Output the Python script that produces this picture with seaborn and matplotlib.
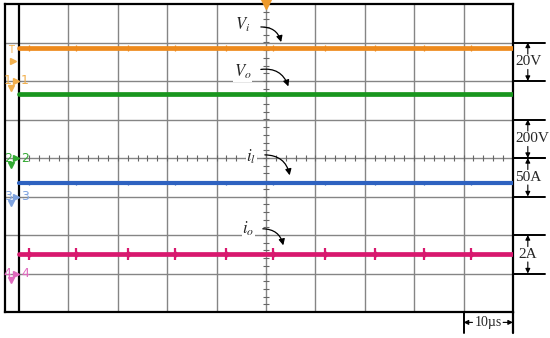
import numpy as np
import pandas as pd
import matplotlib
matplotlib.use('Agg')
import matplotlib.pyplot as plt
import seaborn as sns

# trace levels in screen divisions (8 vertical x 10 horizontal)
channels = ['Vi', 'Vo', 'il', 'io']
trace_level = [6.86, 5.66, 3.35, 1.51]
trace_colors = ['#EE8A1C', '#19961E', '#2E62C0', '#D8186E']
trace_width = [3.4, 3.4, 3.0, 3.4]

# ground reference markers
ref_names = ['1', '2', '3', '4']
ref_level = [6.0, 4.0, 3.0, 1.0]
ref_colors = ['#F2B04E', '#33AA33', '#7FA3E0', '#E069BE']

# switching spikes (div)
spike_times = [0.2, 1.15, 2.2, 3.15, 4.2, 5.15, 6.2, 7.2, 8.2, 9.15]
spike_height = [0.08, 0.03, 0.06, 0.15]
spike_width = [0.9, 0.8, 0.9, 1.6]

# labels
trace_labels = [r'$V_i$', r'$V_o$', r'$i_l$', r'$i_o$']
label_pos = [(4.53, 7.45), (4.53, 6.23), (4.70, 4.03), (4.64, 2.16)]
arrow_start = [(4.84, 7.40), (4.84, 6.29), (4.92, 4.08), (4.88, 2.16)]
arrow_end = [(5.32, 6.94), (5.47, 5.79), (5.49, 3.48), (5.36, 1.66)]

scale_labels = ['20V', '200V', '50A', '2A']
scale_span = [(6, 7), (4, 5), (3, 4), (1, 2)]
time_label = '10\u00b5s'

sns.set_style('white')
plt.rcParams['font.family'] = ['Liberation Serif', 'DejaVu Serif']
plt.rcParams['mathtext.fontset'] = 'stix'

fig = plt.figure(figsize=(5.5, 3.38), dpi=100)
W, H = 550, 338
ax = fig.add_axes([5 / W, (H - 312) / H, 508 / W, 308 / H])
x0 = -14 / 49.4
ax.set_xlim(x0, 10)
ax.set_ylim(0, 8)
ax.set_xticks([])
ax.set_yticks([])
for s in ax.spines.values():
    s.set_color('black')
    s.set_linewidth(1.6)

# grid
for gx in range(1, 10):
    ax.axvline(gx, color='#858585', lw=1.0, zorder=1)
for gy in range(1, 8):
    ax.axhline(gy, color='#858585', lw=1.0, zorder=1)
ax.axvline(0, color='black', lw=1.6, zorder=2)

# center axes minor ticks
ty = np.arange(0.2, 8, 0.2)
ax.hlines(ty, 5 - 0.06, 5 + 0.06, color='#666666', lw=0.8, zorder=1)
tx = np.arange(0.2, 10, 0.2)
ax.vlines(tx, 4 - 0.07, 4 + 0.07, color='#666666', lw=0.8, zorder=1)

# traces
rows = []
for name, lev in zip(channels, trace_level):
    rows.append({'t': 0, 'v': lev, 'ch': name})
    rows.append({'t': 10, 'v': lev, 'ch': name})
df = pd.DataFrame(rows)
for i, name in enumerate(channels):
    sns.lineplot(data=df[df.ch == name], x='t', y='v', color=trace_colors[i],
                 lw=trace_width[i], ax=ax, legend=False, zorder=4)
    h = spike_height[i]
    lev = trace_level[i]
    ax.vlines(spike_times, lev - h, lev + h, color=trace_colors[i],
              lw=spike_width[i], zorder=4)
    if i == 3:
        ax.scatter(spike_times, [lev] * len(spike_times), marker='D', s=14,
                   color=trace_colors[i], zorder=5, lw=0)
ax.set_xlabel('')
ax.set_ylabel('')
ax.set_xlim(x0, 10)
ax.set_ylim(0, 8)

# reference markers at left
for name, lev, c in zip(ref_names, ref_level, ref_colors):
    ax.text(-0.23, lev, name, color=c, fontsize=9, ha='center', va='center',
            family='DejaVu Sans', zorder=6)
    ax.plot(-0.17, lev - 0.17, marker='v', ms=4, color=c, zorder=6, clip_on=False)
    ax.plot(-0.06, lev, marker='>', ms=4, color=c, zorder=6, clip_on=False)
    ax.text(0.12, lev, name, color=c, fontsize=9, ha='center', va='center',
            family='DejaVu Sans', zorder=6)

# trigger markers
ax.text(-0.17, 6.8, 'T', color='#F2B04E', fontsize=7, ha='center', va='center',
        family='DejaVu Sans')
ax.plot(-0.12, 6.52, marker='>', ms=4, color='#F2B04E')
ax.plot(5, 8, marker='v', ms=7, color='#EE9A2C', clip_on=False, zorder=6)

# trace annotations
for lab, p, a, b in zip(trace_labels, label_pos, arrow_start, arrow_end):
    ax.text(p[0], p[1], lab, fontsize=12, ha='center', va='center', zorder=7,
            bbox=dict(fc='white', ec='none', pad=0.5))
    ax.annotate('', xy=b, xytext=a, zorder=7,
                arrowprops=dict(arrowstyle='-|>', color='black', lw=0.9,
                                mutation_scale=9,
                                connectionstyle='arc3,rad=-0.45'))

# scale brackets on the right
xr = 10.65
xa = 10.3
for lab, (lo, hi) in zip(scale_labels, scale_span):
    ax.plot([10, xr], [lo, lo], color='black', lw=1.4, clip_on=False)
    ax.plot([10, xr], [hi, hi], color='black', lw=1.4, clip_on=False)
    mid = (lo + hi) / 2
    ax.text(10.04 if lab != '2A' else xa, mid, lab, fontsize=11,
            ha='left' if lab != '2A' else 'center', va='center')
    ax.annotate('', xy=(xa, hi), xytext=(xa, mid + 0.2), annotation_clip=False,
                arrowprops=dict(arrowstyle='-|>', color='black', lw=0.8,
                                mutation_scale=7, shrinkA=0, shrinkB=0))
    ax.annotate('', xy=(xa, lo), xytext=(xa, mid - 0.2), annotation_clip=False,
                arrowprops=dict(arrowstyle='-|>', color='black', lw=0.8,
                                mutation_scale=7, shrinkA=0, shrinkB=0))

# time bracket
ax.plot([9, 9], [0, -0.55], color='black', lw=1.4, clip_on=False)
ax.plot([10, 10], [0, -0.55], color='black', lw=1.6, clip_on=False)
ax.text(9.5, -0.27, time_label, fontsize=10, ha='center', va='center')
ax.annotate('', xy=(9.0, -0.27), xytext=(9.18, -0.27), annotation_clip=False,
            arrowprops=dict(arrowstyle='-|>', color='black', lw=0.8,
                            mutation_scale=7, shrinkA=0, shrinkB=0))
ax.annotate('', xy=(10.0, -0.27), xytext=(9.8, -0.27), annotation_clip=False,
            arrowprops=dict(arrowstyle='-|>', color='black', lw=0.8,
                            mutation_scale=7, shrinkA=0, shrinkB=0))

fig.savefig('out.png', dpi=100)
